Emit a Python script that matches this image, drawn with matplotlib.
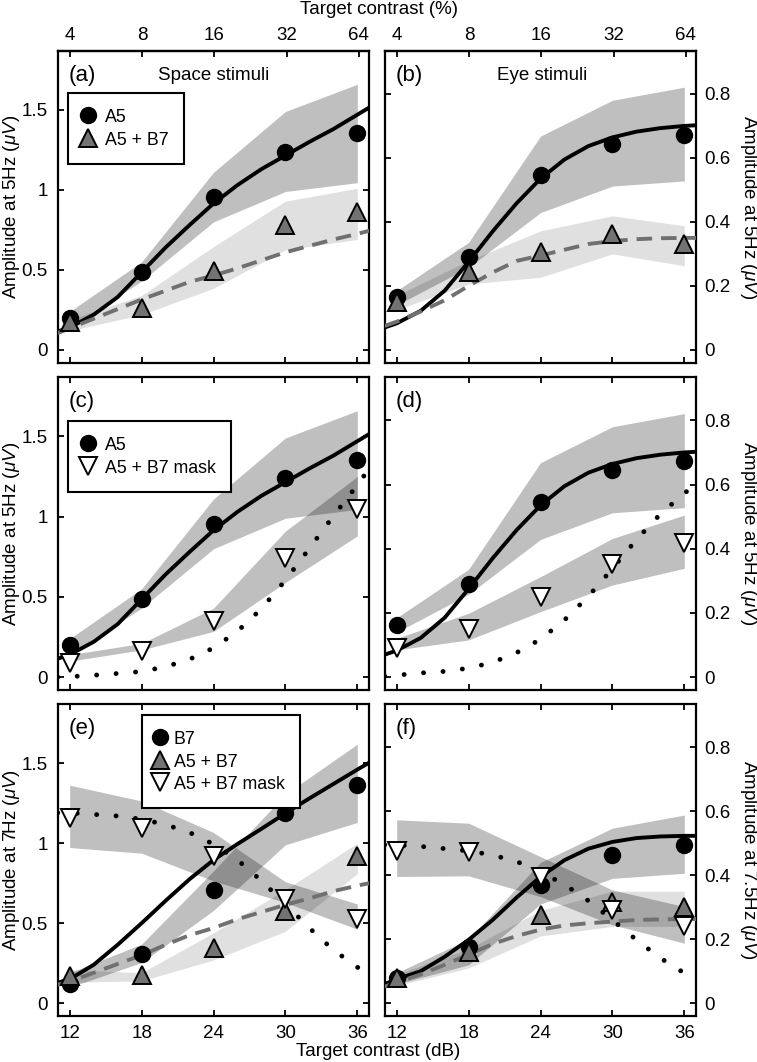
import numpy as np
import matplotlib
matplotlib.use('Agg')
import matplotlib.pyplot as plt

plt.rcParams['font.family'] = ['Liberation Sans', 'DejaVu Sans']
plt.rcParams['mathtext.fontset'] = 'custom'
plt.rcParams['mathtext.it'] = 'Liberation Sans:italic'
plt.rcParams['mathtext.rm'] = 'Liberation Sans'

# ---------------- data ----------------
contrast_db = [12, 18, 24, 30, 36]
contrast_pct = [4, 8, 16, 32, 64]
fit_db = [11, 12, 14, 16, 18, 20, 22, 24, 26, 28, 30, 32, 34, 36, 37]

left_yticks = [0, 0.5, 1, 1.5]
left_yticklabels = ['0', '0.5', '1', '1.5']
right_yticks = [0, 0.2, 0.4, 0.6, 0.8]
right_yticklabels = ['0', '0.2', '0.4', '0.6', '0.8']

# Space stimuli (5 Hz)
space_A5 = [0.20, 0.485, 0.954, 1.24, 1.354]
space_A5_lo = [0.14, 0.43, 0.80, 0.99, 1.045]
space_A5_hi = [0.24, 0.55, 1.11, 1.49, 1.66]
space_A5B7 = [0.177, 0.26, 0.496, 0.78, 0.864]
space_A5B7_lo = [0.12, 0.22, 0.385, 0.625, 0.69]
space_A5B7_hi = [0.19, 0.34, 0.646, 0.93, 1.01]
space_mask = [0.087, 0.16, 0.348, 0.744, 1.05]
space_mask_lo = [0.10, 0.17, 0.285, 0.59, 0.88]
space_mask_hi = [0.14, 0.21, 0.43, 0.91, 1.25]
space_fit_A5 = [0.115, 0.14, 0.22, 0.33, 0.485, 0.64, 0.78, 0.915, 1.03, 1.13, 1.215, 1.30, 1.38, 1.47, 1.515]
space_fit_A5B7 = [0.105, 0.135, 0.195, 0.255, 0.315, 0.37, 0.425, 0.465, 0.51, 0.56, 0.61, 0.65, 0.69, 0.725, 0.745]
space_fit_mask = [0.0, 0.003, 0.012, 0.023, 0.035, 0.065, 0.111, 0.182, 0.286, 0.426, 0.604, 0.802, 1.004, 1.197, 1.30]

# Eye stimuli (5 Hz)
eye_A5 = [0.164, 0.291, 0.546, 0.644, 0.673]
eye_A5_lo = [0.14, 0.258, 0.429, 0.512, 0.528]
eye_A5_hi = [0.185, 0.336, 0.668, 0.78, 0.821]
eye_A5B7 = [0.149, 0.242, 0.305, 0.362, 0.331]
eye_A5B7_lo = [0.125, 0.206, 0.227, 0.30, 0.263]
eye_A5B7_hi = [0.17, 0.279, 0.372, 0.419, 0.388]
eye_mask = [0.092, 0.149, 0.25, 0.354, 0.417]
eye_mask_lo = [0.085, 0.116, 0.204, 0.287, 0.339]
eye_mask_hi = [0.121, 0.199, 0.313, 0.432, 0.505]
eye_fit_A5 = [0.07, 0.083, 0.122, 0.185, 0.275, 0.37, 0.458, 0.535, 0.595, 0.637, 0.664, 0.682, 0.693, 0.70, 0.702]
eye_fit_A5B7 = [0.075, 0.088, 0.12, 0.155, 0.20, 0.242, 0.278, 0.295, 0.313, 0.331, 0.34, 0.346, 0.349, 0.35, 0.35]
eye_fit_mask = [0.003, 0.006, 0.013, 0.018, 0.028, 0.046, 0.076, 0.118, 0.178, 0.252, 0.338, 0.428, 0.508, 0.573, 0.60]

# Space stimuli (7 Hz), B7 target
s7_B7 = [0.119, 0.31, 0.708, 1.1875, 1.365]
s7_B7_lo = [0.10, 0.254, 0.58, 0.99, 1.13]
s7_B7_hi = [0.19, 0.369, 0.827, 1.306, 1.619]
s7_A5B7 = [0.171, 0.175, 0.348, 0.577, 0.917]
s7_A5B7_lo = [0.13, 0.14, 0.27, 0.45, 0.81]
s7_A5B7_hi = [0.21, 0.19, 0.44, 0.71, 1.0]
s7_mask = [1.16, 1.095, 0.92, 0.65, 0.525]
s7_mask_lo = [0.973, 0.9375, 0.764, 0.629, 0.4625]
s7_mask_hi = [1.3625, 1.264, 1.067, 0.759, 0.62]
s7_fit_B7 = [0.128, 0.15, 0.24, 0.365, 0.50, 0.64, 0.775, 0.895, 0.995, 1.09, 1.187, 1.28, 1.37, 1.46, 1.504]
s7_fit_A5B7 = [0.115, 0.135, 0.19, 0.245, 0.30, 0.365, 0.425, 0.47, 0.525, 0.57, 0.615, 0.655, 0.70, 0.735, 0.75]
s7_fit_mask = [1.19, 1.19, 1.18, 1.17, 1.15, 1.116, 1.067, 0.994, 0.896, 0.765, 0.62, 0.47, 0.333, 0.225, 0.18]

# Eye stimuli (7.5 Hz), B7 target
e7_B7 = [0.078, 0.177, 0.37, 0.463, 0.495]
e7_B7_lo = [0.06, 0.12, 0.31, 0.39, 0.406]
e7_B7_hi = [0.095, 0.2, 0.44, 0.547, 0.588]
e7_A5B7 = [0.078, 0.161, 0.276, 0.3175, 0.302]
e7_A5B7_lo = [0.055, 0.11, 0.21, 0.24, 0.24]
e7_A5B7_hi = [0.09, 0.17, 0.29, 0.35, 0.35]
e7_mask = [0.477, 0.474, 0.395, 0.29, 0.24]
e7_mask_lo = [0.396, 0.398, 0.333, 0.245, 0.1875]
e7_mask_hi = [0.573, 0.5625, 0.458, 0.354, 0.302]
e7_fit_B7 = [0.06, 0.075, 0.10, 0.145, 0.198, 0.26, 0.33, 0.395, 0.447, 0.483, 0.504, 0.516, 0.521, 0.523, 0.523]
e7_fit_A5B7 = [0.052, 0.065, 0.09, 0.12, 0.152, 0.185, 0.21, 0.23, 0.243, 0.25, 0.255, 0.26, 0.262, 0.263, 0.263]
e7_fit_mask = [0.495, 0.494, 0.49, 0.483, 0.476, 0.463, 0.443, 0.41, 0.371, 0.32, 0.26, 0.198, 0.141, 0.094, 0.075]

# ---------------- styles ----------------
FS = 13.5
DARK = dict(color='k', alpha=0.25, lw=0, zorder=1)
LIGHT = dict(color='k', alpha=0.12, lw=0, zorder=1)
SOLID = dict(color='k', lw=2.8, ls='-', zorder=3, solid_capstyle='butt')
DASHED = dict(color='#707070', lw=2.8, ls=(0, (4.0, 2.3)), zorder=3)
DOTTED = dict(color='k', lw=3.5, ls=(0, (0.01, 4.0)), dash_capstyle='round', zorder=3)
CIRC = dict(marker='o', ms=11.5, mfc='k', mec='k', ls='none', zorder=4)
UP = dict(marker='^', ms=13, mfc='#737373', mec='k', mew=1.4, ls='none', zorder=5)
DOWN = dict(marker='v', ms=13, mfc='white', mec='k', mew=1.4, ls='none', zorder=6)

W, H = 757, 1062
fig = plt.figure(figsize=(W / 100, H / 100), dpi=100)

lx, rx, aw = 57.7 / W, 384.7 / W, 311.6 / W
rows = [(1 - 362.7 / H, 312 / H), (1 - 690 / H, 313 / H), (1 - 1016 / H, 312 / H)]

axes = {}
names = [['a', 'b'], ['c', 'd'], ['e', 'f']]
for r, (b, h) in enumerate(rows):
    for c, x0 in enumerate([lx, rx]):
        axes[names[r][c]] = fig.add_axes([x0, b, aw, h])

LYL = (-0.08, 1.87)
RYL = (-0.04, 0.935)


def style_axis(ax, side, bottom_labels):
    ax.set_xlim(11, 37)
    ax.set_xticks(contrast_db)
    ax.set_xticklabels([str(v) for v in contrast_db])
    for s in ax.spines.values():
        s.set_linewidth(1.6)
    ax.tick_params(axis='both', direction='in', length=4, width=1.3,
                   top=True, bottom=True, left=True, right=True, labelsize=FS)
    ax.tick_params(axis='x', pad=6.5, labelbottom=bottom_labels)
    if side == 'left':
        ax.set_ylim(*LYL)
        ax.set_yticks(left_yticks)
        ax.set_yticklabels(left_yticklabels)
        ax.tick_params(axis='y', labelleft=True, labelright=False, pad=7)
    else:
        ax.set_ylim(*RYL)
        ax.set_yticks(right_yticks)
        ax.set_yticklabels(right_yticklabels)
        ax.tick_params(axis='y', labelleft=False, labelright=True, pad=6)


def set_ylabel(ax, side, text):
    if side == 'left':
        ax.set_ylabel(text, fontsize=FS, va='center')
        ax.yaxis.set_label_coords(-0.148, 0.5)
    else:
        ax.yaxis.set_label_position('right')
        ax.set_ylabel(text, fontsize=FS, rotation=-90, va='center')
        ax.yaxis.set_label_coords(1.166, 0.5)


def band(ax, lo, hi, st):
    ax.fill_between(contrast_db, lo, hi, **st)


def add_top_pct(ax):
    ax.tick_params(axis='x', top=False)
    sec = ax.secondary_xaxis('top', functions=(lambda x: 10 ** (np.asarray(x) / 20.0),
                                               lambda p: 20 * np.log10(np.maximum(np.asarray(p, float), 1e-9))))
    sec.set_xticks(contrast_pct)
    sec.set_xticklabels([str(v) for v in contrast_pct])
    sec.minorticks_off()
    sec.tick_params(direction='in', length=4, width=1.3, labelsize=FS, pad=5)
    sec.spines['top'].set_linewidth(1.6)


def legend(ax, handles_labels, anchor, hl=0.56, htp=0.67):
    hs = []
    for st, lab in handles_labels:
        h, = ax.plot([], [], label=lab, **st)
        hs.append(h)
    lg = ax.legend(handles=hs, loc='upper left', bbox_to_anchor=anchor, borderaxespad=0,
                   fontsize=12.8, numpoints=1, handlelength=hl, handletextpad=htp,
                   handleheight=1.0, labelspacing=0.25, borderpad=0.85, fancybox=False,
                   framealpha=1, edgecolor='k')
    lg.get_frame().set_linewidth(1.5)
    lg.set_zorder(10)


# ---- (a) ----
ax = axes['a']
band(ax, space_A5_lo, space_A5_hi, DARK)
band(ax, space_A5B7_lo, space_A5B7_hi, LIGHT)
ax.plot(fit_db, space_fit_A5, **SOLID)
ax.plot(fit_db, space_fit_A5B7, **DASHED)
ax.plot(contrast_db, space_A5, **CIRC)
ax.plot(contrast_db, space_A5B7, **UP)
style_axis(ax, 'left', False)
add_top_pct(ax)
set_ylabel(ax, 'left', r'Amplitude at 5Hz ($\mu V$)')
ax.text(0.034, 0.955, '(a)', transform=ax.transAxes, fontsize=16, va='top', ha='left')
ax.text(0.5, 0.92, 'Space stimuli', transform=ax.transAxes, fontsize=FS, va='center', ha='center')
legend(ax, [(CIRC, 'A5'), (UP, 'A5 + B7')], (0.034, 0.8635))

# ---- (b) ----
ax = axes['b']
band(ax, eye_A5_lo, eye_A5_hi, DARK)
band(ax, eye_A5B7_lo, eye_A5B7_hi, LIGHT)
ax.plot(fit_db, eye_fit_A5, **SOLID)
ax.plot(fit_db, eye_fit_A5B7, **DASHED)
ax.plot(contrast_db, eye_A5, **CIRC)
ax.plot(contrast_db, eye_A5B7, **UP)
style_axis(ax, 'right', False)
add_top_pct(ax)
set_ylabel(ax, 'right', r'Amplitude at 5Hz ($\mu V$)')
ax.text(0.034, 0.955, '(b)', transform=ax.transAxes, fontsize=16, va='top', ha='left')
ax.text(0.504, 0.92, 'Eye stimuli', transform=ax.transAxes, fontsize=FS, va='center', ha='center')

# ---- (c) ----
ax = axes['c']
band(ax, space_A5_lo, space_A5_hi, DARK)
band(ax, space_mask_lo, space_mask_hi, DARK)
ax.plot(fit_db, space_fit_A5, **SOLID)
ax.plot(fit_db, space_fit_mask, **DOTTED)
ax.plot(contrast_db, space_A5, **CIRC)
ax.plot(contrast_db, space_mask, **DOWN)
style_axis(ax, 'left', False)
set_ylabel(ax, 'left', r'Amplitude at 5Hz ($\mu V$)')
ax.text(0.034, 0.955, '(c)', transform=ax.transAxes, fontsize=16, va='top', ha='left')
legend(ax, [(CIRC, 'A5'), (DOWN, 'A5 + B7 mask')], (0.034, 0.859))

# ---- (d) ----
ax = axes['d']
band(ax, eye_A5_lo, eye_A5_hi, DARK)
band(ax, eye_mask_lo, eye_mask_hi, DARK)
ax.plot(fit_db, eye_fit_A5, **SOLID)
ax.plot(fit_db, eye_fit_mask, **DOTTED)
ax.plot(contrast_db, eye_A5, **CIRC)
ax.plot(contrast_db, eye_mask, **DOWN)
style_axis(ax, 'right', False)
set_ylabel(ax, 'right', r'Amplitude at 5Hz ($\mu V$)')
ax.text(0.034, 0.955, '(d)', transform=ax.transAxes, fontsize=16, va='top', ha='left')

# ---- (e) ----
ax = axes['e']
band(ax, s7_B7_lo, s7_B7_hi, DARK)
band(ax, s7_A5B7_lo, s7_A5B7_hi, LIGHT)
band(ax, s7_mask_lo, s7_mask_hi, DARK)
ax.plot(fit_db, s7_fit_B7, **SOLID)
ax.plot(fit_db, s7_fit_A5B7, **DASHED)
ax.plot(fit_db, s7_fit_mask, **DOTTED)
ax.plot(contrast_db, s7_B7, **CIRC)
ax.plot(contrast_db, s7_A5B7, **UP)
ax.plot(contrast_db, s7_mask, **DOWN)
style_axis(ax, 'left', True)
set_ylabel(ax, 'left', r'Amplitude at 7Hz ($\mu V$)')
ax.text(0.034, 0.955, '(e)', transform=ax.transAxes, fontsize=16, va='top', ha='left')
legend(ax, [(CIRC, 'B7'), (UP, 'A5 + B7'), (DOWN, 'A5 + B7 mask')], (0.27, 0.965),
       hl=0.4, htp=0.55)

# ---- (f) ----
ax = axes['f']
band(ax, e7_B7_lo, e7_B7_hi, DARK)
band(ax, e7_A5B7_lo, e7_A5B7_hi, LIGHT)
band(ax, e7_mask_lo, e7_mask_hi, DARK)
ax.plot(fit_db, e7_fit_B7, **SOLID)
ax.plot(fit_db, e7_fit_A5B7, **DASHED)
ax.plot(fit_db, e7_fit_mask, **DOTTED)
ax.plot(contrast_db, e7_B7, **CIRC)
ax.plot(contrast_db, e7_A5B7, **UP)
ax.plot(contrast_db, e7_mask, **DOWN)
style_axis(ax, 'right', True)
set_ylabel(ax, 'right', r'Amplitude at 7.5Hz ($\mu V$)')
ax.text(0.034, 0.955, '(f)', transform=ax.transAxes, fontsize=16, va='top', ha='left')

fig.text(0.5, 1 - 10 / H, 'Target contrast (%)', ha='center', va='center', fontsize=FS)
fig.text(0.5, 11 / H, 'Target contrast (dB)', ha='center', va='center', fontsize=FS)

fig.savefig('out.png', dpi=100)
